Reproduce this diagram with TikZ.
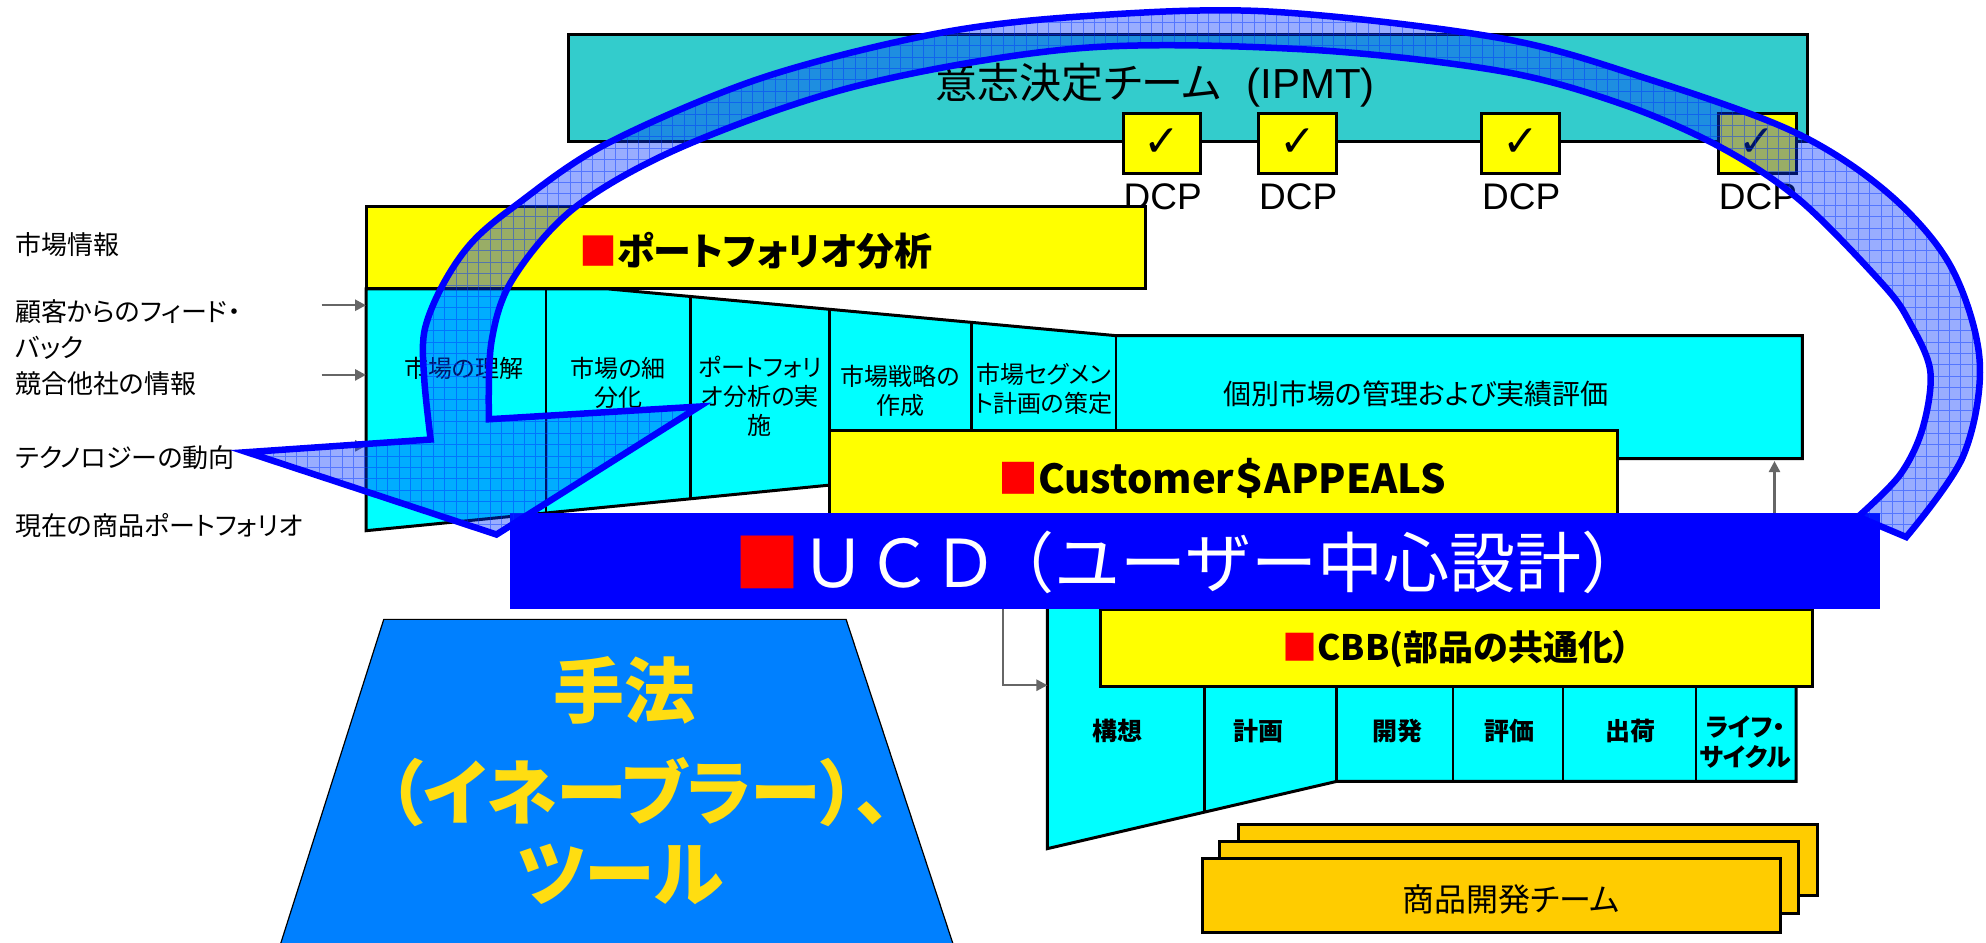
\documentclass[tikz,border=0pt]{standalone}
\usepackage{fontspec}
\setmainfont{Noto Sans CJK JP}[RawFeature={+palt}]
\newfontfamily\jpm{Noto Sans CJK JP}
\newfontfamily\lat{Liberation Sans}
\newfontfamily\sym{DejaVu Sans}
\usetikzlibrary{arrows.meta}
\definecolor{tealc}{RGB}{51,204,204}
\definecolor{yel}{RGB}{255,255,0}
\definecolor{cyn}{RGB}{0,255,255}
\definecolor{org}{RGB}{255,204,0}
\definecolor{toolc}{RGB}{0,128,255}
\definecolor{toolt}{RGB}{255,221,17}
\definecolor{ucdc}{RGB}{0,0,255}
\definecolor{bandc}{RGB}{0,51,255}
\definecolor{arr}{RGB}{102,102,102}
\newcommand\fz[1]{\fontsize{#1}{#1}\selectfont}
\newcommand\bandpath{plot[smooth,tension=0.55] coordinates {(340,347) (335,300) (335,262) (349,226) (372,192) (406,163) (478,114) (600,62) (737,27) (853,13) (1000,9) (1184,30) (1300,62) (1416,104) (1490,152) (1540,210) (1563,285) (1550,360) (1505,424)} -- plot[smooth,tension=0.55] coordinates {(1467,408) (1500,375) (1518,338) (1524,293) (1508,255) (1487,225) (1421,158) (1358,116) (1280,82) (1184,56) (1030,39) (853,38) (680,67) (543,114) (455,163) (405,220) (388,270) (386,331)} -- (552,321) -- (392,422) -- (195,357) -- cycle}
\begin{document}
\begin{tikzpicture}[x=1.2666pt,y=-1.2666pt,
  bx/.style={draw=black,line width=3pt},
  dv/.style={draw=black,line width=2.5pt},
  garrow/.style={draw=arr,line width=2.5pt,-{Triangle[length=11pt,width=11pt]}},
  cell/.style={font=\fontsize{24}{29}\selectfont,align=center,inner sep=0pt},
  cbbcell/.style={font=\bfseries\fontsize{25}{30}\selectfont,align=center,inner sep=0pt},
  side/.style={font=\fz{26},anchor=west,inner sep=0pt},
  tooltxt/.style={font=\bfseries\fz{71},text=toolt,inner sep=0pt}]
\useasboundingbox (0,0) rectangle (1568,744);

% decision team
\draw[bx,fill=tealc] (449,27) rectangle (1427,112);
\node[font=\fz{42}] (ipmt) at (912,67) {意志決定チーム\hspace{0.6em}{\lat (IPMT)}};
\foreach \x/\n in {887/1,994/2,1170/3,1357/4}{
  \draw[bx,fill=yel] (\x,90) rectangle ++(61,47);
  \node[font=\sym\fz{44}] (chk\n) at (\x+30.5,113) {✓};
  \node[font=\lat\fz{37}] (dcp\n) at (\x+31,155) {DCP};
}

% portfolio funnel
\draw[bx,fill=cyn,line join=miter] (289,228) -- (479,228) -- (881,265) -- (1423,265) -- (1423,362) -- (1277,362) -- (1277,400) -- (655,400) -- (655,383) -- (289,419) -- cycle;
\draw[dv] (431,228) -- (431,405);
\draw[dv] (545,234) -- (545,394);
\draw[dv] (655,244) -- (655,383);
\draw[dv] (767,254) -- (767,340);
\draw[dv] (881,265) -- (881,340);
\node[cell] (p1) at (366,291) {市場の理解};
\node[cell] (p2) at (488,302) {市場の細\\分化};
\node[cell] (p3) at (600,313) {ポートフォリ\\オ分析の実\\施};
\node[cell] (p4) at (711,309) {市場戦略の\\作成};
\node[cell] (p5) at (824,307) {市場セグメン\\ト計画の策定};
\node[font=\fz{28},inner sep=0pt] (p6) at (1118,311) {個別市場の管理および実績評価};
\draw[bx,fill=yel] (289,163) rectangle (904,228);
\node[font=\bfseries\fz{38}] (pfa) at (597,198) {\textcolor{red}{■}ポートフォリオ分析};

% customer appeals
\draw[bx,fill=yel] (655,340) rectangle (1277,412);
\node[font=\bfseries\fz{40}] (cust) at (965,378) {\textcolor{red}{■}Customer＄APPEALS};

% left inputs
\node[side] (s1) at (12,193) {市場情報};
\node[side] (s2) at (12,246) {顧客からのフィード・};
\node[side] (s2b) at (12,275) {バック};
\node[side] (s3) at (12,303) {競合他社の情報};
\node[side] (s4) at (12,361) {テクノロジーの動向};
\node[side] (s5) at (12,415) {現在の商品ポートフォリオ};
\coordinate (a1s) at (254,241); \coordinate (a1e) at (289,241);
\coordinate (a2s) at (254,296); \coordinate (a2e) at (289,296);
\coordinate (a3s) at (254,352); \coordinate (a3e) at (289,352);
\draw[garrow] (a1s) -- (a1e);
\draw[garrow] (a2s) -- (a2e);
\draw[garrow] (a3s) -- (a3e);

% CBB funnel
\draw[bx,fill=cyn,line join=miter] (827,470) -- (1418,470) -- (1418,617) -- (1055,617) -- (827,670) -- cycle;
\draw[dv] (951,542) -- (951,641);
\draw[dv] (1055,542) -- (1055,617);
\draw[dv] (1147,542) -- (1147,617);
\draw[dv] (1234,542) -- (1234,617);
\draw[dv] (1339,542) -- (1339,617);
\draw[bx,fill=yel] (869,481) rectangle (1431,542);
\node[font=\bfseries\fz{35}] (cbb) at (1150,512) {\textcolor{red}{■}CBB(部品の共通化）};
\node[cbbcell] (c1) at (882,577) {構想};
\node[cbbcell] (c2) at (994,577) {計画};
\node[cbbcell] (c3) at (1103,577) {開発};
\node[cbbcell] (c4) at (1192,577) {評価};
\node[cbbcell] (c5) at (1287,577) {出荷};
\node[cbbcell] (c6) at (1378,586) {ライフ・\\サイクル};

% product development team
\draw[bx,fill=org] (978,651) rectangle (1435,707);
\draw[bx,fill=org] (963,664) rectangle (1420,721);
\draw[bx,fill=org] (949,678) rectangle (1406,736);
\node[font=\fz{32}] (team) at (1193,710) {商品開発チーム};

% enablers
\draw[fill=toolc,draw=black,line width=1.2pt] (303,489) -- (668,489) -- (754,750) -- (220,750) -- cycle;
\node[tooltxt] (t1) at (493,545) {手法};
\node[tooltxt] (t2) at (505,625) {（イネーブラー）、};
\node[tooltxt] (t3) at (490,690) {ツール};

% UCD bar
\fill[ucdc] (403,405) rectangle (1484,481);
\node[font=\jpm\fz{66},text=white] (ucd) at (940,444) {\textcolor{red}{■}ＵＣＤ\hspace{-0.15em}（ユーザー中心設計）};

% gray arrows
\coordinate (u1) at (1401,405); \coordinate (u2) at (1401,364);
\draw[garrow] (u1) -- (u2);
\coordinate (l1) at (792,481); \coordinate (l2) at (827,541);
\draw[garrow] (l1) |- (l2);

% big curved arrow
\fill[bandc,fill opacity=0.4] \bandpath;
\begin{scope}
\clip \bandpath;
\draw[bandc,opacity=0.45,line width=0.6pt,step=11.4pt] (150,450) grid (1600,0);
\end{scope}
\draw[ucdc,line width=6.5pt,line join=miter] \bandpath;
\end{tikzpicture}
\end{document}
